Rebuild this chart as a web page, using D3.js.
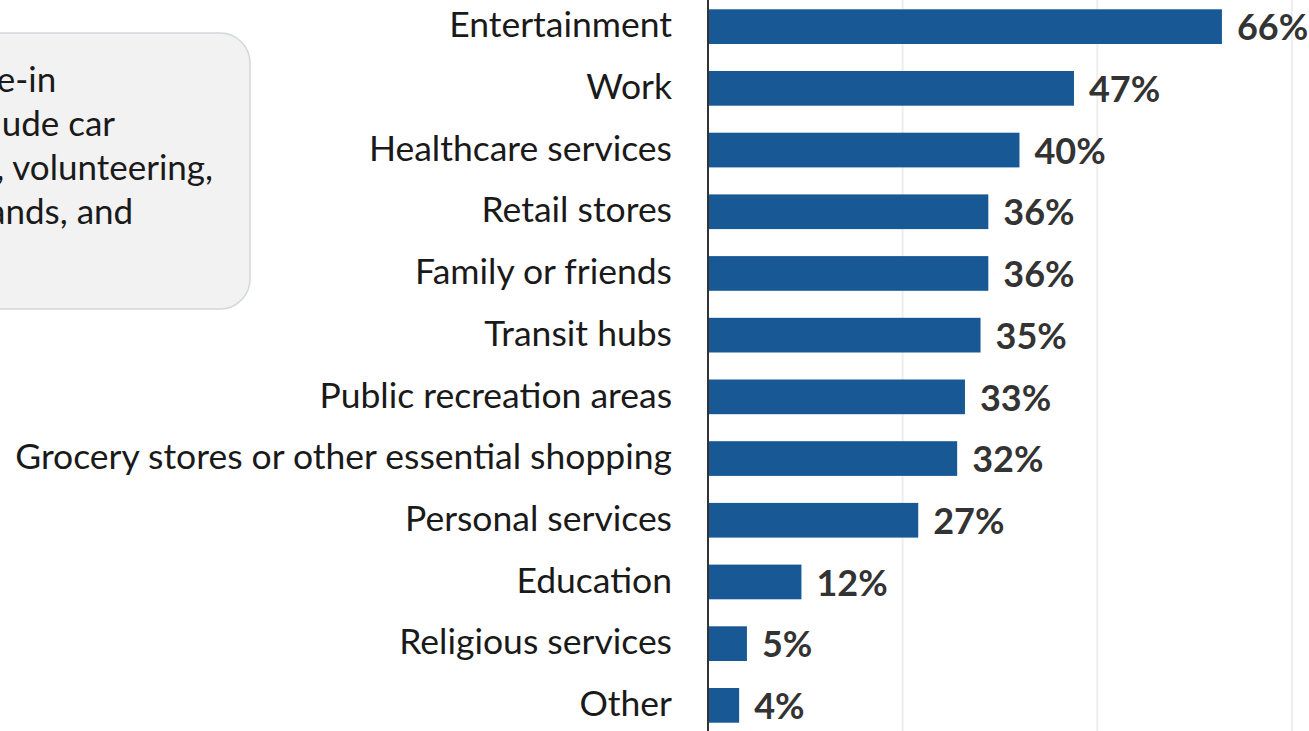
<!DOCTYPE html>
<html>
<head>
<meta charset="utf-8">
<script src="https://cdn.jsdelivr.net/npm/d3@7"></script>
<style>
  html, body { margin: 0; padding: 0; background: #ffffff; overflow: hidden; }
  svg { display: block; }
</style>
</head>
<body>
<script>
// Share of respondents by type of trip destination
const categories = [
  "Entertainment",
  "Work",
  "Healthcare services",
  "Retail stores",
  "Family or friends",
  "Transit hubs",
  "Public recreation areas",
  "Grocery stores or other essential shopping",
  "Personal services",
  "Education",
  "Religious services",
  "Other"
];
const values = [66, 47, 40, 36, 36, 35, 33, 32, 27, 12, 5, 4];
const gridTicks = [25, 50, 75];

// Note text in the rounded box on the left
const noteLines = [
  "Other includes dine-in",
  "events. Others include car",
  "shows, car washes, volunteering,",
  "walks, running errands, and",
  "more."
];

const W = 1309, H = 731;
const FONT = "Lato, 'Source Sans Pro', sans-serif";

const svg = d3.select("body").append("svg")
  .attr("width", W).attr("height", H);

const x = d3.scaleLinear().domain([0, 75]).range([708, 1292]);
const y = d3.scaleBand().domain(categories)
  .range([-4.2, 736.2]).paddingInner(0.4376).paddingOuter(0.2188);

// vertical gridlines
svg.append("g").selectAll("line").data(gridTicks).join("line")
  .attr("x1", d => x(d)).attr("x2", d => x(d))
  .attr("y1", 0).attr("y2", H)
  .attr("stroke", "#eeeeee").attr("stroke-width", 2);

// bars
svg.append("g").selectAll("rect").data(categories).join("rect")
  .attr("x", x(0))
  .attr("y", d => y(d))
  .attr("width", (d, i) => x(values[i]) - x(0))
  .attr("height", y.bandwidth())
  .attr("fill", "#185894");

// zero baseline
svg.append("line")
  .attr("x1", x(0)).attr("x2", x(0))
  .attr("y1", 0).attr("y2", H)
  .attr("stroke", "#333333").attr("stroke-width", 2);

// category labels
svg.append("g").selectAll("text").data(categories).join("text")
  .attr("x", 672)
  .attr("y", d => y(d) + y.bandwidth() / 2)
  .attr("dy", "0.3em")
  .attr("text-anchor", "end")
  .attr("font-family", FONT)
  .attr("font-size", 35.5)
  .attr("fill", "#1a1a1a")
  .text(d => d);

// value labels
svg.append("g").selectAll("text").data(categories).join("text")
  .attr("x", (d, i) => x(values[i]) + 15)
  .attr("y", d => y(d) + y.bandwidth() / 2)
  .attr("dy", "0.38em")
  .attr("font-family", FONT)
  .attr("font-weight", 700)
  .attr("font-size", 36)
  .attr("fill", "#333333")
  .text((d, i) => values[i] + "%");

// note box
const note = svg.append("g");
note.append("rect")
  .attr("x", -300).attr("y", 33)
  .attr("width", 550).attr("height", 276)
  .attr("rx", 30).attr("ry", 30)
  .attr("fill", "#f2f2f2")
  .attr("stroke", "#d3d6da").attr("stroke-width", 1.5);

const noteText = note.append("text")
  .attr("font-family", FONT)
  .attr("font-size", 35)
  .attr("fill", "#1a1a1a");
noteText.selectAll("tspan").data(noteLines).join("tspan")
  .attr("x", 0)
  .attr("y", (d, i) => 92 + i * 44)
  .text(d => d);
// shared left edge of the note text, set from the widest line ending at x = 213
const third = noteText.selectAll("tspan").nodes()[2];
const x0 = 213 - third.getComputedTextLength();
noteText.selectAll("tspan").attr("x", x0);
</script>
</body>
</html>
